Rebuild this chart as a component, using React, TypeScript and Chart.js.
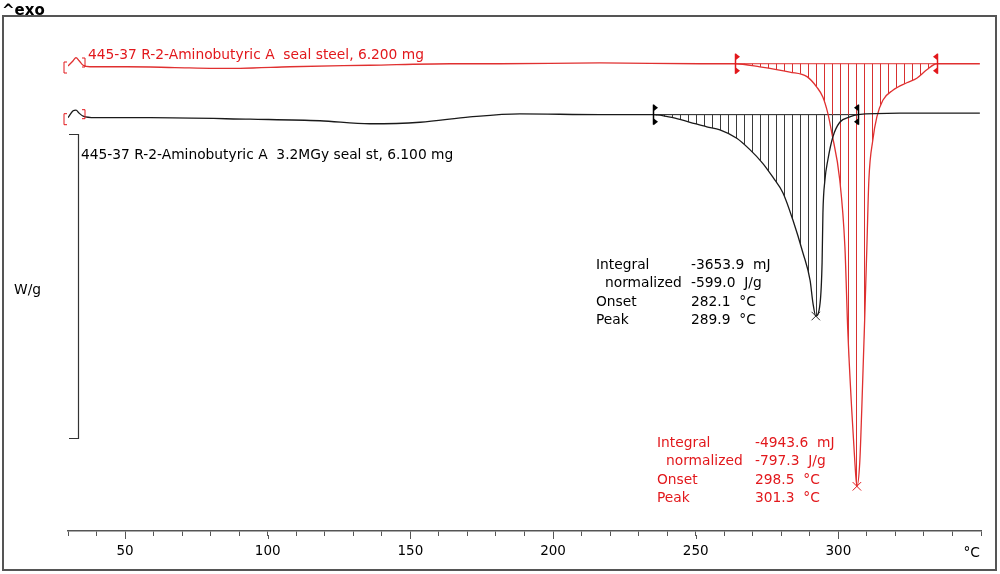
import React, { useEffect, useRef } from "react";
import { Chart, registerables } from "chart.js";

Chart.register(...registerables);

// ---- data (temperature °C, heat flow W/g with display offsets) ----
const redTemp = [30.0, 31.8, 32.8, 33.9, 35.3, 37.7, 50.7, 67.5, 81.5, 90.3, 107.8, 135.8, 163.9, 181.4, 216.4, 251.5, 263.7, 272.5, 283.0, 289.0, 292.5, 294.6, 296.3, 297.7, 300.5, 302.3, 303.3, 304.7, 305.8, 306.5, 307.5, 308.2, 309.3, 310.0, 310.7, 312.1, 313.5, 315.6, 319.1, 324.0, 327.5, 331.0, 334.5, 342.6, 349.6];
const redHeat = [0.71, 0.78, 0.82, 0.78, 0.72, 0.70, 0.70, 0.69, 0.68, 0.68, 0.70, 0.72, 0.74, 0.74, 0.75, 0.74, 0.74, 0.70, 0.63, 0.57, 0.43, 0.30, 0.09, -0.17, -0.79, -1.67, -2.76, -3.82, -4.51, -4.82, -4.51, -3.82, -2.54, -1.67, -0.79, -0.26, 0.04, 0.26, 0.39, 0.49, 0.55, 0.66, 0.74, 0.74, 0.74];

const blackTemp = [30.0, 31.8, 32.8, 33.9, 35.3, 39.5, 58.8, 93.8, 118.3, 135.8, 153.4, 170.9, 188.4, 216.4, 235.0, 242.0, 248.0, 253.9, 258.5, 264.4, 269.0, 273.5, 277.0, 280.6, 284.1, 287.6, 290.1, 291.1, 292.1, 293.6, 294.3, 294.6, 295.3, 296.3, 298.1, 300.5, 304.0, 306.8, 321.5, 349.6];
const blackHeat = [0.03, 0.12, 0.13, 0.09, 0.05, 0.03, 0.03, 0.01, -0.01, -0.05, -0.03, 0.04, 0.08, 0.07, 0.07, 0.03, -0.03, -0.09, -0.13, -0.24, -0.39, -0.57, -0.75, -0.96, -1.32, -1.75, -2.11, -2.41, -2.58, -2.41, -1.88, -1.22, -0.79, -0.53, -0.22, -0.03, 0.04, 0.07, 0.09, 0.09];

const redLimits = [263.7, 334.5];
const redBaseline = 0.74;
const blackLimits = [235.0, 306.8];
const blackBaseline = 0.07;

const peakTemp = [292.1, 306.5];
const peakHeat = [-2.58, -4.82];

const xTickLabels = [50, 100, 150, 200, 250, 300];
const xMin = 30;
const xMax = 350;
const yMin = -5.408;
const yMax = 1.368;

const redLabel = "445-37 R-2-Aminobutyric A  seal steel, 6.200 mg";
const blackLabel = "445-37 R-2-Aminobutyric A  3.2MGy seal st, 6.100 mg";
const resultNames = ["Integral", "normalized", "Onset", "Peak"];
const blackResults = ["-3653.9  mJ", "-599.0  J/g", "282.1  °C", "289.9  °C"];
const redResults = ["-4943.6  mJ", "-797.3  J/g", "298.5  °C", "301.3  °C"];

const RED = "#e2181c";
const RED_LINE = "#e03030";
const BLACK = "#1a1a1a";
const FONT = "DejaVu Sans";
const TXT = `13.8px ${FONT}`;

function makeHatch(color: string) {
  const c = document.createElement("canvas");
  c.width = 8;
  c.height = 8;
  const g = c.getContext("2d")!;
  g.fillStyle = color;
  g.fillRect(0, 0, 1, 8);
  return g.createPattern(c, "repeat");
}

function pts(t: number[], h: number[]) {
  return t.map((x, i) => ({ x, y: h[i] }));
}

function subset(t: number[], h: number[], lim: number[]) {
  return pts(t, h).filter((p) => p.x >= lim[0] && p.x <= lim[1]);
}

export default function App() {
  const ref = useRef<HTMLCanvasElement | null>(null);

  useEffect(() => {
    const canvas = ref.current!;
    const deco = {
      id: "deco",
      afterDraw(chart: any) {
        const ctx = chart.ctx as CanvasRenderingContext2D;
        const xs = chart.scales.x;
        const ys = chart.scales.y;
        ctx.save();
        // frame
        ctx.strokeStyle = "#555";
        ctx.lineWidth = 2;
        ctx.strokeRect(3, 16, 993, 554);
        // ^exo
        ctx.fillStyle = "#000";
        ctx.font = `bold 15px ${FONT}`;
        ctx.textBaseline = "middle";
        ctx.textAlign = "left";
        ctx.fillText("^exo", 2, 11);

        // major tick extension
        const axisY = chart.chartArea.bottom;
        ctx.strokeStyle = "#555";
        ctx.lineWidth = 1;
        for (const v of xTickLabels) {
          const px = Math.round(xs.getPixelForValue(v)) + 0.5;
          ctx.beginPath();
          ctx.moveTo(px, axisY + 4);
          ctx.lineTo(px, axisY + 8);
          ctx.stroke();
        }
        // unit at the end of the axis
        ctx.fillStyle = "#000";
        ctx.font = TXT;
        ctx.textAlign = "right";
        ctx.fillText("°C", 980, 553);

        // scale bracket
        ctx.strokeStyle = "#333";
        ctx.lineWidth = 1.2;
        ctx.beginPath();
        ctx.moveTo(69, 134.5);
        ctx.lineTo(78.5, 134.5);
        ctx.lineTo(78.5, 438.5);
        ctx.lineTo(69, 438.5);
        ctx.stroke();
        ctx.font = TXT;
        ctx.textAlign = "left";
        ctx.fillStyle = "#000";
        ctx.fillText("W/g", 14, 290);

        // curve labels
        ctx.fillStyle = RED;
        ctx.fillText(redLabel, 88, 55);
        ctx.fillStyle = "#000";
        ctx.fillText(blackLabel, 81, 155);

        // result blocks
        const block = (x0: number, xv: number, y0: number, vals: string[], color: string) => {
          ctx.fillStyle = color;
          resultNames.forEach((n, i) => {
            const y = y0 + i * 18.5;
            ctx.fillText(n, i === 1 ? x0 + 9 : x0, y);
            ctx.fillText(vals[i], xv, y);
          });
        };
        block(596, 691, 265, blackResults, "#000");
        block(657, 755, 443, redResults, RED);

        // start brackets
        const startBr = (yc: number) => {
          const x0 = xs.getPixelForValue(xMin);
          ctx.strokeStyle = RED;
          ctx.lineWidth = 1;
          ctx.beginPath();
          ctx.moveTo(x0 - 1, yc - 4);
          ctx.lineTo(x0 - 4, yc - 4);
          ctx.lineTo(x0 - 4, yc + 7);
          ctx.lineTo(x0 - 1, yc + 7);
          ctx.stroke();
          ctx.beginPath();
          ctx.moveTo(x0 + 14, yc - 8);
          ctx.lineTo(x0 + 17, yc - 8);
          ctx.lineTo(x0 + 17, yc + 1);
          ctx.lineTo(x0 + 14, yc + 1);
          ctx.stroke();
        };
        startBr(ys.getPixelForValue(redHeat[0]));
        startBr(ys.getPixelForValue(blackHeat[0]));

        // integration limit markers
        const limit = (t: number, v: number, dir: number, color: string) => {
          const x = Math.round(xs.getPixelForValue(t)) + 0.5;
          const y = ys.getPixelForValue(v);
          ctx.strokeStyle = color;
          ctx.fillStyle = color;
          ctx.lineWidth = 1.5;
          ctx.beginPath();
          ctx.moveTo(x, y - 10);
          ctx.lineTo(x, y + 10);
          ctx.stroke();
          for (const ty of [y - 7, y + 7]) {
            ctx.beginPath();
            ctx.moveTo(x, ty - 3.5);
            ctx.lineTo(x + 4.5 * dir, ty);
            ctx.lineTo(x, ty + 3.5);
            ctx.closePath();
            ctx.fill();
          }
        };
        limit(blackLimits[0], blackBaseline, 1, "#000");
        limit(blackLimits[1], blackBaseline, -1, "#000");
        limit(redLimits[0], redBaseline, 1, RED);
        limit(redLimits[1], redBaseline, -1, RED);
        ctx.restore();
      },
    };

    const chart = new Chart(canvas, {
      type: "line",
      data: {
        datasets: [
          {
            data: pts(blackTemp, blackHeat),
            borderColor: BLACK,
            borderWidth: 1.3,
            pointRadius: 0,
            cubicInterpolationMode: "monotone",
            fill: false,
          },
          {
            data: pts(redTemp, redHeat),
            borderColor: RED_LINE,
            borderWidth: 1.3,
            pointRadius: 0,
            cubicInterpolationMode: "monotone",
            fill: false,
          },
          {
            data: peakTemp.map((x, i) => ({ x, y: peakHeat[i] })),
            showLine: false,
            pointStyle: "crossRot",
            pointRadius: 6,
            pointBorderWidth: 1,
            pointBorderColor: ["#333", RED],
            borderColor: ["#333", RED],
          },
          {
            data: subset(blackTemp, blackHeat, blackLimits),
            borderWidth: 0,
            pointRadius: 0,
            cubicInterpolationMode: "monotone",
            fill: { value: blackBaseline },
            backgroundColor: makeHatch("#3a3a3a") as any,
          },
          {
            data: subset(redTemp, redHeat, redLimits),
            borderWidth: 0,
            pointRadius: 0,
            cubicInterpolationMode: "monotone",
            fill: { value: redBaseline },
            backgroundColor: makeHatch("#d83030") as any,
          },
          {
            data: [
              { x: blackLimits[0], y: blackBaseline },
              { x: blackLimits[1], y: blackBaseline },
            ],
            borderColor: BLACK,
            borderWidth: 1,
            pointRadius: 0,
            fill: false,
          },
          {
            data: [
              { x: redLimits[0], y: redBaseline },
              { x: redLimits[1], y: redBaseline },
            ],
            borderColor: RED_LINE,
            borderWidth: 1,
            pointRadius: 0,
            fill: false,
          },
        ],
      },
      options: {
        animation: false,
        responsive: false,
        maintainAspectRatio: false,
        layout: { padding: { left: 68, right: 19, top: 16, bottom: 0 } },
        plugins: { legend: { display: false }, tooltip: { enabled: false } },
        scales: {
          x: {
            type: "linear",
            min: xMin,
            max: xMax,
            afterFit: (s: any) => {
              s.height = 43;
            },
            border: { display: true, color: "#555", width: 1.5 },
            grid: { drawOnChartArea: false, drawTicks: true, tickLength: 5, color: "#555", lineWidth: 1 },
            ticks: {
              stepSize: 10,
              autoSkip: false,
              maxRotation: 0,
              padding: 7,
              color: "#000",
              font: { family: FONT, size: 13.5 },
              callback: (v: any) => (xTickLabels.includes(Number(v)) ? String(v) : ""),
            },
          },
          y: { display: false, min: yMin, max: yMax },
        },
      },
      plugins: [deco],
    } as any);
    return () => chart.destroy();
  }, []);

  return (
    <div style={{ position: "fixed", left: 0, top: 0, width: 1000, height: 574, background: "#fff" }}>
      <canvas ref={ref} width={1000} height={574} style={{ width: 1000, height: 574 }} />
    </div>
  );
}
